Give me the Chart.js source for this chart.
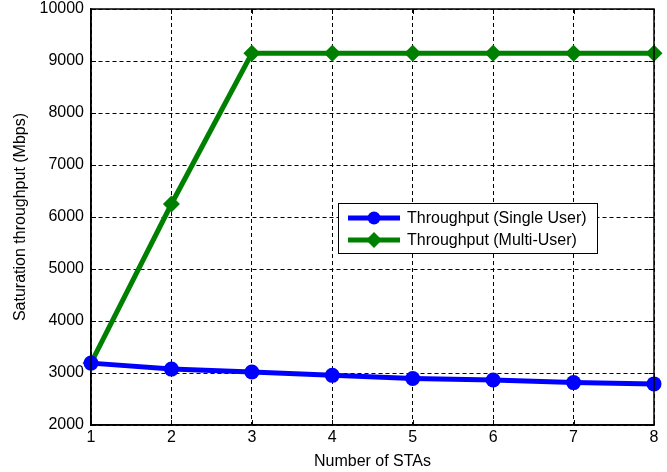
<!DOCTYPE html>
<html>
<head>
<meta charset="utf-8">
<script src="https://cdn.jsdelivr.net/npm/chart.js@4/dist/chart.umd.min.js"></script>
<style>
    html, body { margin: 0; padding: 0; background: #fff; }
    #wrap { width: 667px; height: 472px; }
</style>
</head>
<body>
<div id="wrap"><canvas id="chart" width="667" height="472"></canvas></div>
<script>
const stas = [1, 2, 3, 4, 5, 6, 7, 8];
const singleUser = [3190, 3075, 3020, 2955, 2895, 2865, 2815, 2790];
const multiUser = [3190, 6250, 9150, 9150, 9150, 9150, 9150, 9150];
const yTicks = [2000, 3000, 4000, 5000, 6000, 7000, 8000, 9000, 10000];

const FONT = "'Liberation Sans', Arial, sans-serif";
const FS = 16;

// box round the plot with small inward ticks, like matlab's "box on"
const boxPlugin = {
    id: "box",
    afterDatasetsDraw(chart) {
        const { ctx, chartArea: a, scales } = chart;
        const t = 5;
        ctx.save();
        ctx.strokeStyle = "#000";
        ctx.lineWidth = 1;
        ctx.beginPath();
        stas.forEach((v) => {
            const px = Math.round(scales.x.getPixelForValue(v)) + 0.5;
            ctx.moveTo(px, a.bottom);
            ctx.lineTo(px, a.bottom - t);
            ctx.moveTo(px, a.top);
            ctx.lineTo(px, a.top + t);
        });
        yTicks.forEach((v) => {
            const py = Math.round(scales.y.getPixelForValue(v)) + 0.5;
            ctx.moveTo(a.left, py);
            ctx.lineTo(a.left + t, py);
            ctx.moveTo(a.right, py);
            ctx.lineTo(a.right - t, py);
        });
        ctx.stroke();
        ctx.lineWidth = 1.5;
        ctx.strokeRect(a.left, a.top, a.right - a.left, a.bottom - a.top);
        ctx.restore();
    },
};

// legend drawn inside the axes
const insideLegend = {
    id: "insideLegend",
    afterDraw(chart) {
        const { ctx } = chart;
        const x = 338, y = 203, w = 259, h = 50;
        ctx.save();
        ctx.fillStyle = "#fff";
        ctx.fillRect(x, y, w, h);
        ctx.strokeStyle = "#000";
        ctx.lineWidth = 1;
        ctx.strokeRect(x + 0.5, y + 0.5, w, h);
        ctx.font = FS + "px " + FONT;
        ctx.textBaseline = "middle";
        chart.data.datasets.forEach((ds, i) => {
            const cy = y + 15 + i * 22;
            ctx.strokeStyle = ds.borderColor;
            ctx.lineWidth = 5;
            ctx.beginPath();
            ctx.moveTo(x + 10, cy);
            ctx.lineTo(x + 62, cy);
            ctx.stroke();
            ctx.fillStyle = ds.borderColor;
            ctx.beginPath();
            if (ds.pointStyle === "rectRot") {
                ctx.moveTo(x + 36, cy - 8);
                ctx.lineTo(x + 44, cy);
                ctx.lineTo(x + 36, cy + 8);
                ctx.lineTo(x + 28, cy);
            } else {
                ctx.arc(x + 36, cy, 6.5, 0, Math.PI * 2);
            }
            ctx.closePath();
            ctx.fill();
            ctx.fillStyle = "#000";
            ctx.fillText(ds.label, x + 69, cy + 1);
        });
        ctx.restore();
    },
};

new Chart(document.getElementById("chart"), {
    type: "line",
    data: {
        datasets: [
            {
                label: "Throughput (Single User)",
                data: stas.map((s, i) => ({ x: s, y: singleUser[i] })),
                borderColor: "#0000ff",
                backgroundColor: "#0000ff",
                borderWidth: 5,
                pointStyle: "circle",
                pointRadius: 7.5,
                pointBorderWidth: 0,
            },
            {
                label: "Throughput (Multi-User)",
                data: stas.map((s, i) => ({ x: s, y: multiUser[i] })),
                borderColor: "#008000",
                backgroundColor: "#008000",
                borderWidth: 5,
                pointStyle: "rectRot",
                pointRadius: 8.5,
                pointBorderWidth: 0,
            },
        ],
    },
    options: {
        responsive: false,
        animation: false,
        clip: false,
        layout: { padding: { top: 9, right: 13, left: 0, bottom: 0 } },
        plugins: { legend: { display: false }, tooltip: { enabled: false } },
        scales: {
            x: {
                type: "linear",
                min: 1,
                max: 8,
                afterBuildTicks(scale) {
                    scale.ticks = stas.map((v) => ({ value: v }));
                },
                afterFit(scale) {
                    scale.height = 47;
                    scale.paddingLeft = 0;
                    scale.paddingRight = 0;
                },
                border: { display: true, color: "#000", width: 1.5, dash: [4, 3] },
                grid: { color: "#000", lineWidth: 1, drawTicks: false },
                ticks: {
                    color: "#000",
                    font: { family: FONT, size: FS },
                    padding: 3,
                    maxRotation: 0,
                    callback: (v) => String(v),
                },
                title: {
                    display: true,
                    text: "Number of STAs",
                    color: "#000",
                    font: { family: FONT, size: FS },
                    padding: { top: 0, bottom: 1 },
                },
            },
            y: {
                min: 2000,
                max: 10000,
                afterBuildTicks(scale) {
                    scale.ticks = yTicks.map((v) => ({ value: v }));
                },
                afterFit(scale) {
                    scale.width = 91;
                    scale.paddingTop = 0;
                    scale.paddingBottom = 0;
                },
                border: { display: true, color: "#000", width: 1.5, dash: [4, 3] },
                grid: { color: "#000", lineWidth: 1, drawTicks: false },
                ticks: {
                    color: "#000",
                    font: { family: FONT, size: FS },
                    padding: 7,
                    callback: (v) => String(v),
                },
                title: {
                    display: true,
                    text: "Saturation throughput (Mbps)",
                    color: "#000",
                    font: { family: FONT, size: FS },
                    padding: { top: 11, bottom: 0 },
                },
            },
        },
    },
    plugins: [boxPlugin, insideLegend],
});
</script>
</body>
</html>
